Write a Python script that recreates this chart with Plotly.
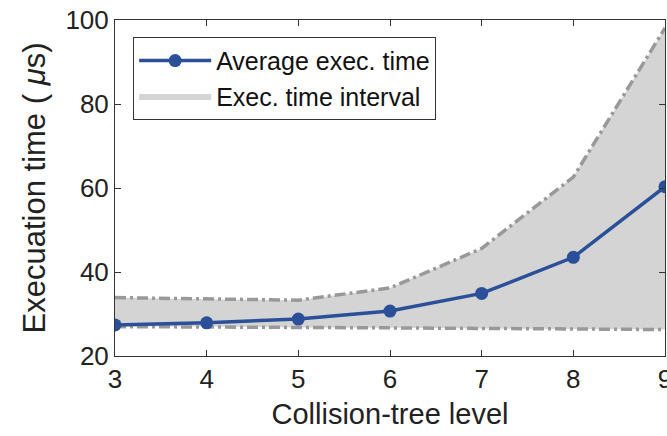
import plotly.graph_objects as go

levels = [3, 4, 5, 6, 7, 8, 9]
avg_time = [27.4, 27.9, 28.8, 30.7, 34.9, 43.5, 60.3]
upper_time = [33.9, 33.5, 33.3, 36.2, 45.6, 62.6, 98.1]
lower_time = [27.0, 27.0, 26.8, 26.7, 26.6, 26.4, 26.3]

blue = "#2b4f98"
gray_line = "#999999"
fill_gray = "#d4d4d4"
dash = "11px,4px,3px,4px"

fig = go.Figure()
fig.add_trace(go.Scatter(x=levels + levels[::-1], y=upper_time + lower_time[::-1],
                         mode="lines", line=dict(width=0), fill="toself",
                         fillcolor=fill_gray, name="Exec. time interval",
                         legendrank=2, hoverinfo="skip"))
fig.add_trace(go.Scatter(x=levels, y=upper_time, mode="lines",
                         line=dict(color=gray_line, width=3.5, dash=dash), showlegend=False))
fig.add_trace(go.Scatter(x=levels, y=lower_time, mode="lines",
                         line=dict(color=gray_line, width=3.5, dash=dash), showlegend=False))
fig.add_trace(go.Scatter(x=levels, y=avg_time, mode="lines+markers",
                         line=dict(color=blue, width=3.5),
                         marker=dict(color=blue, size=13),
                         name="Average exec. time", legendrank=1))

font = "Arial, Liberation Sans, sans-serif"
fig.update_layout(
    width=667, height=436,
    margin=dict(l=115, r=2, t=20, b=80),
    plot_bgcolor="white", paper_bgcolor="white",
    font=dict(family=font, size=26, color="#222222"),
    showlegend=True,
    legend=dict(x=0.033, y=0.95, xanchor="left", yanchor="top",
                bgcolor="white", bordercolor="#333333", borderwidth=1,
                font=dict(size=25, color="#111111"), tracegroupgap=0,
                traceorder="normal", itemwidth=72),
    xaxis=dict(range=[3, 9], tickvals=levels, ticks="inside", ticklen=6,
               tickcolor="#333333", showline=True, linecolor="#333333", linewidth=1,
               mirror="ticks", showgrid=False, zeroline=False, automargin=False,
               ticklabeloverflow="allow",
               title=dict(text="Collision-tree level", font=dict(size=29), standoff=10),
               tickfont=dict(size=26)),
    yaxis=dict(range=[20, 100], tickvals=[20, 40, 60, 80, 100], ticks="inside", ticklen=6,
               tickcolor="#333333", showline=True, linecolor="#333333", linewidth=1,
               mirror="ticks", showgrid=False, zeroline=False,
               title=dict(text="Execuation time ( <i>μ</i>s)", font=dict(size=31), standoff=10),
               tickfont=dict(size=26)),
)

fig.write_html("out.html")
